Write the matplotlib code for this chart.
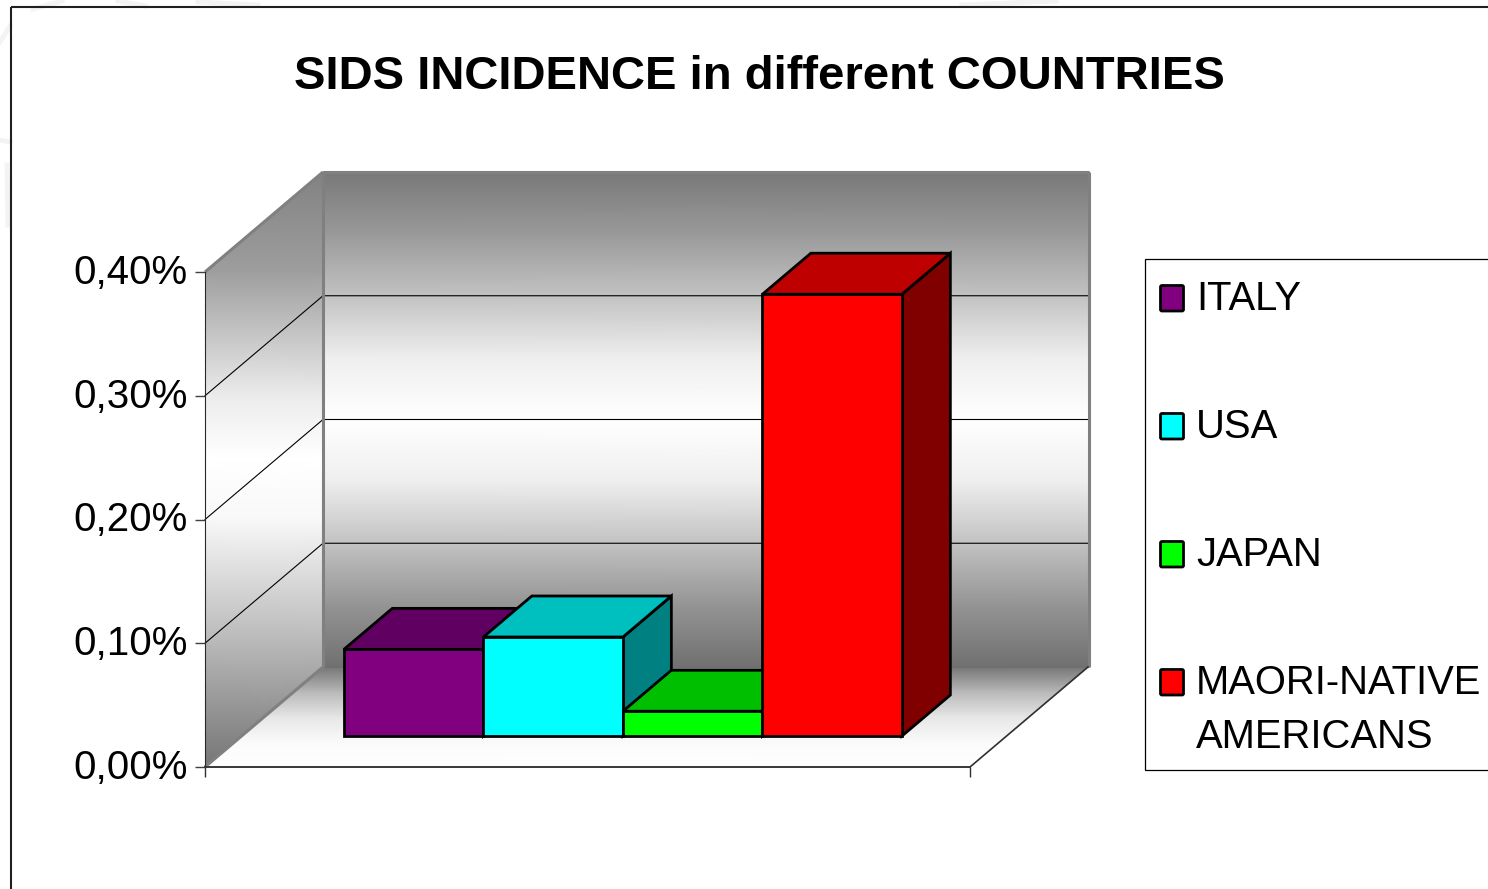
import matplotlib
matplotlib.use('Agg')
import matplotlib.pyplot as plt
import numpy as np
from matplotlib.lines import Line2D
from matplotlib.patches import FancyBboxPatch, Polygon, Rectangle
from matplotlib.transforms import Affine2D, ScaledTranslation

WIDTH, HEIGHT = 1488, 889

countries = ['ITALY', 'USA', 'JAPAN', 'MAORI-NATIVE\nAMERICANS']
incidence = [0.07, 0.08, 0.02, 0.357]
colors = ['#800080', '#00ffff', '#00ff00', '#ff0000']
top_colors = ['#600060', '#00bfbf', '#00bf00', '#bf0000']
side_colors = ['#400040', '#008080', '#008000', '#800000']
y_ticks = [0.0, 0.1, 0.2, 0.3, 0.4]
y_tick_labels = ['0,00%', '0,10%', '0,20%', '0,30%', '0,40%']

# gray level of the back wall, from floor to ceiling
back_levels = [0.44, 0.58, 0.76, 0.93, 1.0, 0.93, 0.76, 0.60, 0.47]
# left wall shading stays level on screen, so it is given per height
left_heights = [0.0, 0.1, 0.2, 0.25, 0.3, 0.4, 0.485]
left_levels = [0.46, 0.72, 0.97, 1.0, 0.92, 0.62, 0.50]
floor_levels = [0.46, 0.72, 0.90, 0.98, 1.0]

BAR_W = 139.5  # pixels per category unit
X_MAX = (970 - 205) / BAR_W
DEPTH_X = 118 / BAR_W
DEPTH_Y = 100 / 1237.5
BAR_Z = 0.31
BAR_DEPTH = 0.41
BAR_START = 0.734
EDGE_NUDGE = 1.2 / BAR_W


def project(x, v, z):
    """Front-plane data coords for a point at depth z (0 front, 1 back)."""
    return x + z * DEPTH_X, v + z * DEPTH_Y


def shaded_quad(ax, xs, ys, levels, zorder):
    mesh = ax.pcolormesh(xs, ys, levels, shading='gouraud', cmap='gray',
                         vmin=0, vmax=1, zorder=zorder)
    mesh.set_clip_on(False)
    return mesh


def draw_walls(ax):
    # back wall
    n = len(back_levels)
    vals = np.linspace(0, 0.4, n)
    xs = np.array([[DEPTH_X, X_MAX + DEPTH_X + EDGE_NUDGE]] * n)
    ys = np.array([[v + DEPTH_Y, v + DEPTH_Y] for v in vals])
    shaded_quad(ax, xs, ys, np.array([back_levels, back_levels]).T, 1)

    # left wall, a level gradient cut to the parallelogram
    n = len(left_heights)
    xs = np.array([[0, DEPTH_X]] * n)
    ys = np.array([[h, h] for h in left_heights])
    mesh = shaded_quad(ax, xs, ys, np.array([left_levels, left_levels]).T, 1)
    wall = Polygon([(0, 0), (0, 0.4), (DEPTH_X, 0.4 + DEPTH_Y), (DEPTH_X, DEPTH_Y)],
                   closed=True, transform=ax.transData)
    mesh.set_clip_on(True)
    mesh.set_clip_box(None)
    mesh.set_clip_path(wall)

    # floor
    n = len(floor_levels)
    zs = np.linspace(1, 0, n)
    xs = np.array([[z * DEPTH_X, X_MAX + z * DEPTH_X] for z in zs])
    ys = np.array([[z * DEPTH_Y, z * DEPTH_Y] for z in zs])
    shaded_quad(ax, xs, ys, np.array([floor_levels, floor_levels]).T, 1)

    edge = dict(color='#808080', lw=2.2, zorder=1.6, clip_on=False,
                solid_capstyle='butt')
    bx, by = project(0, 0, 1)
    tx, ty = project(0, 0.4, 1)
    rx, _ = project(X_MAX, 0, 1)
    ax.plot([bx, tx], [by, ty], **edge)
    ax.plot([tx, rx + EDGE_NUDGE], [ty, ty], **edge)
    ax.plot([rx + EDGE_NUDGE, rx + EDGE_NUDGE], [ty, by], **edge)
    ax.plot([0, tx], [0.4, ty], **edge)
    ax.plot([0, bx], [0, by], **edge)
    ax.plot([bx, rx], [by, by], color='#707070', lw=1.5, zorder=1.4, clip_on=False)

    # right edge of the floor
    ax.plot([X_MAX, rx], [0, by], color='#303030', lw=1.2, zorder=1.6, clip_on=False)

    for v in y_ticks[1:-1]:
        gx, gy = project(0, v, 1)
        ax.plot([0, gx, rx], [v, gy, gy], color='black', lw=0.8, zorder=1.5, clip_on=False)


def draw_bar(ax, left, height, front, top, side, zorder):
    right = left + 1
    corners = {
        'fl': project(left, 0, BAR_Z),
        'fr': project(right, 0, BAR_Z),
        'ftl': project(left, height, BAR_Z),
        'ftr': project(right, height, BAR_Z),
        'br': project(right, 0, BAR_Z + BAR_DEPTH),
        'btl': project(left, height, BAR_Z + BAR_DEPTH),
        'btr': project(right, height, BAR_Z + BAR_DEPTH),
    }
    faces = [
        (['br', 'btr', 'ftr', 'fr'], side),
        (['ftl', 'btl', 'btr', 'ftr'], top),
        (['fl', 'ftl', 'ftr', 'fr'], front),
    ]
    for names, color in faces:
        ax.add_patch(Polygon([corners[n] for n in names], closed=True, facecolor=color,
                             edgecolor='black', lw=2.0, joinstyle='miter',
                             zorder=zorder, clip_on=False))


plt.rcParams['font.family'] = ['Liberation Sans', 'DejaVu Sans']
fig = plt.figure(figsize=(WIDTH / 100, HEIGHT / 100), dpi=100)

# pixel coordinates, origin at the top left, for frame and legend
px = Affine2D().scale(1, -1).translate(0, HEIGHT)

ax = fig.add_axes([205 / WIDTH, (HEIGHT - 767) / HEIGHT, 765 / WIDTH, 495 / HEIGHT])
ax.patch.set_visible(False)
ax.set_xlim(0, X_MAX)
ax.set_ylim(0, 0.4)

draw_walls(ax)
for i, value in enumerate(incidence):
    draw_bar(ax, BAR_START + i, value, colors[i], top_colors[i], side_colors[i], 3 + i)

ax.set_xlim(0, X_MAX)
ax.set_ylim(0, 0.4)
ax.set_yticks(y_ticks)
ax.set_yticklabels(y_tick_labels, fontsize=29)
ax.set_xticks([0, X_MAX])
ax.set_xticklabels([])
ax.tick_params(axis='y', length=7, width=1, color='#404040', pad=5.5)
ax.tick_params(axis='x', length=7, width=1, color='#303030')
lift = ScaledTranslation(0, 3 / 100, fig.dpi_scale_trans)
for label in ax.get_yticklabels():
    label.set_transform(label.get_transform() + lift)
for name in ('top', 'right'):
    ax.spines[name].set_visible(False)
ax.spines['left'].set_color('#282828')
ax.spines['bottom'].set_color('#383838')
ax.spines['bottom'].set_linewidth(1.4)

fig.text(759, 89, 'SIDS INCIDENCE in different COUNTRIES', transform=px, ha='center',
         va='baseline', fontsize=34, fontweight='bold', color='black')

# faint smudges showing outside the frame
smudges = [([33, 62], [9, 1]), ([118, 146], [1, 6]), ([198, 258], [2, 5]),
           ([962, 1056], [5, 1]), ([0, 10], [42, 26]), ([0, 10], [140, 142]),
           ([7, 8], [165, 225])]
for sx, sy in smudges:
    fig.add_artist(Line2D(sx, sy, transform=px, color='#f3f3f3', lw=3.5, zorder=0))

# outer frame runs off the right and bottom edges
fig.add_artist(Rectangle((11, 7), WIDTH, HEIGHT, transform=px, fill=False,
                         edgecolor='#202020', lw=1.5))

# legend box, also cut by the right edge
fig.add_artist(Rectangle((1145, 259), WIDTH, 511, transform=px, facecolor='white',
                         edgecolor='black', lw=0.9))
swatch_y = [285.5, 413.5, 541.5, 669.5]
label_y = [310, 438, 566, 694]
for i, name in enumerate(countries):
    fig.add_artist(FancyBboxPatch((1160.5, swatch_y[i]), 23, 25.5, transform=px,
                                  boxstyle='round,pad=0,rounding_size=1.5',
                                  facecolor=colors[i], edgecolor='black', lw=2.0, zorder=5))
    for j, line in enumerate(name.split('\n')):
        fig.text(1196, label_y[i] + j * 54, line, transform=px, ha='left', va='baseline',
                 fontsize=28.8, color='black', zorder=5)

fig.savefig('out.png', dpi=100)
